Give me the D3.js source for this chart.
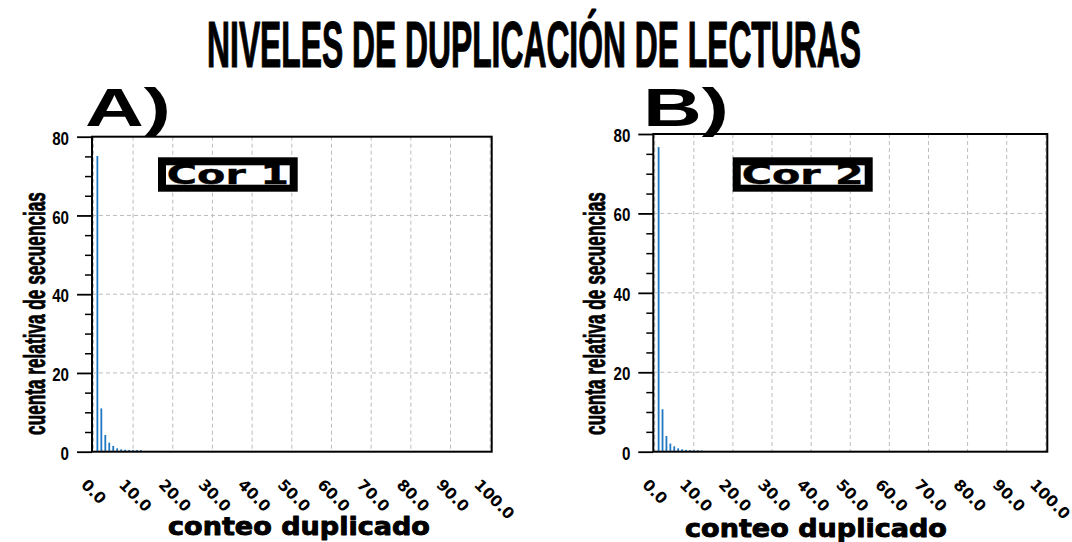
<!DOCTYPE html>
<html><head><meta charset="utf-8">
<script src="https://cdn.jsdelivr.net/npm/d3@7"></script>
<style>body{margin:0;background:#fff}svg{display:block}</style>
</head><body><svg id="c" width="1072" height="542"></svg>
<script>
// ---- data ----
const duplicationLevels = [1,2,3,4,5,6,7,8,9,10,11,12];
const cor1Values = [75.1, 11.0, 4.25, 2.3, 1.45, 0.85, 0.6, 0.5, 0.45, 0.42, 0.42, 0.4];
const cor2Values = [76.7, 10.7, 3.95, 2.05, 1.35, 0.85, 0.6, 0.45, 0.4, 0.35, 0.35, 0.3];
const xTicks = [0,10,20,30,40,50,60,70,80,90,100];
const xTickLabels = ["0.0","10.0","20.0","30.0","40.0","50.0","60.0","70.0","80.0","90.0","100.0"];
const yTicks = [0,20,40,60,80];
const yTickLabels = ["0","20","40","60","80"];
const yMinorTicks = [5,10,15,25,30,35,45,50,55,65,70,75];
const titleText = "NIVELES DE DUPLICACIÓN DE LECTURAS";
const panelLetters = ["A)","B)"];
const sampleNames = ["Cor 1","Cor 2"];
const xLabel = "conteo duplicado";
const yLabel = "cuenta relativa de secuencias";

// ---- layout ----
const svg = d3.select("#c");
const narrow = "'Liberation Sans',Arial,sans-serif";
const wide = "'DejaVu Sans',Verdana,sans-serif";

function scaledText(parent, txt, x, y, w, font, size, anchor, rot, strokeW){
  const g = parent.append("g");
  const t = g.append("text").attr("text-anchor", anchor)
    .style("font-family", font).style("font-weight","bold").style("font-size", size+"px")
    .attr("fill","#000").text(txt);
  if (strokeW) t.attr("stroke","#000").attr("stroke-width", strokeW).attr("stroke-linejoin","round");
  const l = t.node().getComputedTextLength();
  const sx = w / l;
  g.attr("transform", `translate(${x},${y}) rotate(${rot||0}) scale(${sx},1)`);
  return t;
}
function condense(sel, f){ sel.each(function(){ const l=this.getComputedTextLength(); d3.select(this).attr("textLength", l*f).attr("lengthAdjust","spacingAndGlyphs"); }); }

// title
scaledText(svg, titleText, 534, 67, 654, narrow, 65, "middle", 0, 1.2);

const panels = [
  {values: cor1Values, left:92, right:491.7, top:136.7, bottom:451.7, letterX:85, ylabX:45,
   box:[158,157.3,297.7,191.7], xlabCx:299, xlabY:535},
  {values: cor2Values, left:653.3, right:1047.3, top:134, bottom:451.7, letterX:643, ylabX:605,
   box:[732.7,157.3,872.7,191.7], xlabCx:816, xlabY:537}
];

panels.forEach((p, pi) => {
  const g = svg.append("g");
  const x = d3.scaleLinear().domain([0,100]).range([p.left+1.4, p.right-1.5]);
  const y = d3.scaleLinear().domain([0,80]).range([p.bottom, p.top]);

  // grid
  g.append("g").selectAll("line.v").data(xTicks).join("line")
    .attr("x1", d=>x(d)).attr("x2", d=>x(d)).attr("y1", p.top).attr("y2", p.bottom)
    .attr("stroke","#bdbdbd").attr("stroke-width",1).attr("stroke-dasharray","4,3");
  g.append("g").selectAll("line.h").data(yTicks.filter(d=>d>0 && d<80)).join("line")
    .attr("x1", p.left).attr("x2", p.right).attr("y1", d=>y(d)).attr("y2", d=>y(d))
    .attr("stroke","#bdbdbd").attr("stroke-width",1).attr("stroke-dasharray","4,3");

  // bars
  g.append("g").selectAll("rect").data(duplicationLevels).join("rect")
    .attr("x", (d)=>x(d)-0.9).attr("width", 1.8)
    .attr("y", (d,i)=>y(p.values[i])).attr("height", (d,i)=>p.bottom - y(p.values[i]))
    .attr("fill","#1f78c1");

  // y axis ticks
  const yAxis = d3.axisLeft(y).tickValues(yTicks).tickSize(15).tickFormat((d,i)=>yTickLabels[i]).tickPadding(8);
  const ya = g.append("g").attr("transform",`translate(${p.left},0)`).call(yAxis);
  ya.select(".domain").remove();
  ya.selectAll(".tick line").attr("stroke","#000").attr("stroke-width",1.8);
  ya.selectAll(".tick text").style("font-family", narrow).style("font-weight","bold")
    .style("font-size","18px").attr("fill","#000").attr("dy", "0.42em").call(condense, 0.84);
  const yMinor = d3.axisLeft(y).tickValues(yMinorTicks).tickSize(7).tickFormat("");
  const ym = g.append("g").attr("transform",`translate(${p.left},0)`).call(yMinor);
  ym.select(".domain").remove();
  ym.selectAll(".tick line").attr("stroke","#000").attr("stroke-width",1.5);

  // frame
  g.append("rect").attr("x", p.left).attr("y", p.top).attr("width", p.right-p.left).attr("height", p.bottom-p.top)
    .attr("fill","none").attr("stroke","#000").attr("stroke-width",2);

  // x tick labels, rotated
  const xa = g.append("g");
  xTicks.forEach((t,i) => {
    const lab = xTickLabels[i];
    const tx = xa.append("text").attr("text-anchor","middle").attr("dominant-baseline","central")
      .style("font-family", wide).style("font-weight","bold").style("font-size","15.5px").text(lab);
    const w = tx.node().getComputedTextLength();
    const h = 12;
    const half = (w + h) / (2*Math.SQRT2);
    const cx = x(t) + (lab.length - 3) * 2;
    const cy = 478 + half;
    tx.attr("transform", `translate(${cx},${cy}) rotate(45)`);
  });

  // axis labels
  scaledText(g, xLabel, p.xlabCx, p.xlabY, 262, wide, 24, "middle", 0, 0.9);
  scaledText(g, yLabel, p.ylabX, 313.5, 243, narrow, 29, "middle", -90, 0.8);

  // panel letter
  scaledText(g, panelLetters[pi], p.letterX + 43, 126, 86, narrow, 54, "middle", 0, 0);

  // sample box
  const [bx0,by0,bx1,by1] = p.box;
  g.append("rect").attr("x", bx0).attr("y", by0).attr("width", bx1-bx0).attr("height", by1-by0).attr("fill","#000");
  g.append("rect").attr("x", bx0+8).attr("y", by0+8).attr("width", bx1-bx0-16).attr("height", by1-by0-15).attr("fill","#fff");
  scaledText(g, sampleNames[pi], (bx0+bx1)/2, by1-8, 122, wide, 26, "middle", 0, 0.4);
});
</script></body></html>
